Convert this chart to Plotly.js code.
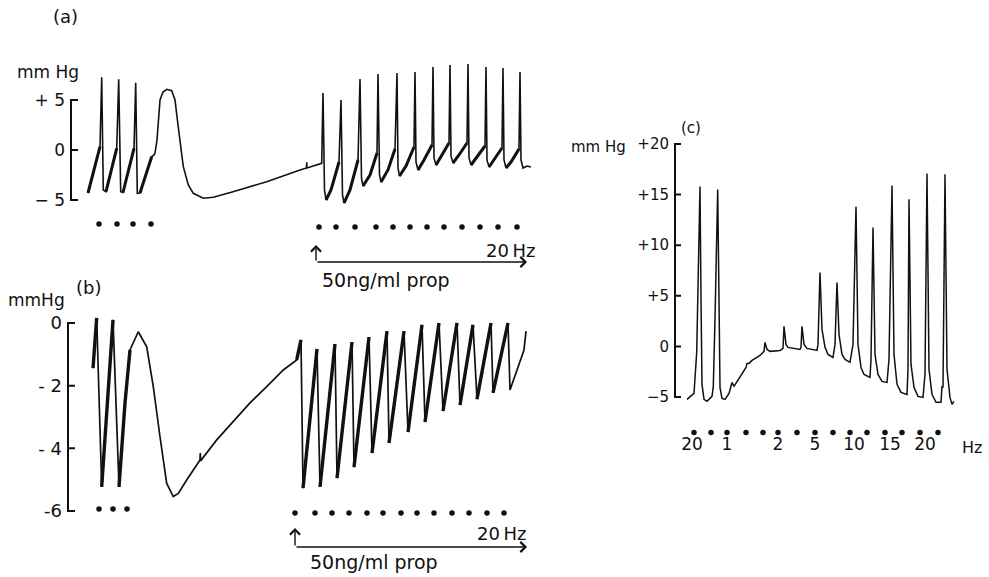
<!DOCTYPE html>
<html><head><meta charset="utf-8">
<script src="https://cdn.plot.ly/plotly-3.0.1.min.js"></script>
<style>html,body{margin:0;padding:0;background:#fff;}#chart{width:989px;height:577px;}</style>
</head><body><div id="chart"></div>
<script>
// ---------- DATA (time in s, pressure in mm Hg) ----------
// Panel (a)
const aTime = [0.0,1.2,1.37,1.53,1.8,2.87,3.07,3.27,3.5,4.6,4.77,4.93,5.2,6.37,6.6,6.7,6.9,7.2,7.5,7.87,8.37,8.7,9.0,9.2,9.53,10.03,10.53,11.53,12.53,14.5,17.87,21.2,21.85,21.87,21.9,23.37,
  23.5,23.65,23.8,24.3,25.1,25.3,25.45,25.6,26.2,27.0,27.2,27.35,27.5,28.2,28.9,29.0,29.15,29.3,30.0,30.7,30.9,31.0,31.15,31.8,32.6,32.7,32.8,33.0,33.6,34.4,34.5,34.6,34.8,35.3,36.1,36.2,36.3,36.5,37.1,37.9,38.0,38.1,38.3,38.8,39.7,39.8,39.9,40.1,40.6,41.4,41.5,41.6,41.8,42.3,43.1,43.2,43.3,43.5,43.9,44.3];
const aPressure = [-4.3,0.33,7.27,-4.0,-4.17,0.17,7.07,-4.17,-4.25,0.17,6.73,-4.33,-4.3,-0.67,-0.5,-0.3,1.0,5.0,5.8,6.07,5.93,5.0,2.5,1.0,-1.67,-3.5,-4.33,-4.83,-4.73,-4.17,-3.17,-2.0,-1.8,-1.23,-1.8,-1.33,
  5.7,-4.0,-5.0,-4.0,-1.2,5.0,-4.5,-5.3,-4.0,-1.0,7.1,-2.8,-3.6,-2.5,-0.3,7.6,-2.5,-3.2,-2.0,0.1,7.7,-1.8,-2.6,-1.6,0.3,7.8,-1.2,-2.0,-1.0,0.5,8.3,-0.8,-1.5,-0.7,0.7,8.5,-0.6,-1.3,-0.5,0.7,8.6,-0.8,-1.5,-0.8,0.4,8.3,-1.0,-1.7,-1.0,0.2,8.2,-1.0,-1.8,-1.2,0.1,7.8,-1.0,-1.8,-1.6,-1.7];
const aStimControl = [1.1,2.9,4.5,6.3];
const aStimDrug = [23.1,24.8,26.7,28.8,30.5,32.2,33.9,35.6,37.4,39.2,41.0,42.9];
const aDrugStart = 22.8, aDrugEnd = 43.9;
const aTickVals = [-5,0,5], aTickText = ['− 5','0','+ 5'];

// Panel (b)
const bTime = [0.0,0.37,0.87,2.0,2.6,3.2,3.7,4.0,4.53,5.37,6.03,6.7,7.37,8.03,8.53,9.37,10.7,10.73,10.76,12.37,14.03,15.7,17.37,19.03,20.37,
  20.8,21.0,22.4,22.7,24.2,24.4,25.9,26.1,27.6,27.9,29.4,29.6,31.1,31.5,32.9,33.2,34.6,35.0,36.4,36.7,38.0,38.4,39.8,40.0,41.5,41.7,43.1,43.3];
const bPressure = [-1.44,0.16,-5.23,0.10,-5.23,-2.55,-0.86,-0.64,-0.28,-0.76,-2.03,-3.63,-5.12,-5.54,-5.44,-5.01,-4.37,-4.15,-4.40,-3.73,-3.15,-2.55,-2.03,-1.50,-1.18,
  -0.54,-5.27,-0.83,-5.23,-0.67,-4.95,-0.61,-4.60,-0.45,-4.15,-0.26,-3.83,-0.26,-3.48,-0.06,-3.16,0.0,-2.81,0.0,-2.62,-0.06,-2.43,0.0,-2.23,0.0,-2.14,-0.86,-0.26];
const bStimControl = [0.6,2.0,3.4];
const bStimDrug = [20.2,22.2,23.9,25.6,27.4,29.0,30.8,32.4,34.1,35.9,37.6,39.4,41.1];
const bDrugStart = 20.2, bDrugEnd = 43.4;
const bTickVals = [-6,-4,-2,0], bTickText = ['-6','- 4','- 2','0'];

// Panel (c)
const cTime = [0.0,0.7,0.97,1.13,1.3,1.4,1.5,1.7,2.0,2.5,2.63,2.8,2.97,3.07,3.2,3.3,3.5,3.8,4.2,4.4,4.5,4.7,5.3,5.9,6.0,6.2,6.5,7.3,7.7,7.8,8.0,8.3,9.3,9.6,9.7,9.9,10.1,11.3,11.4,11.5,11.7,12.0,13.0,13.1,13.3,13.5,13.8,14.1,14.6,14.8,15.0,15.2,15.5,15.8,16.3,16.6,16.9,17.1,17.4,17.7,18.3,18.4,18.6,18.8,19.1,19.5,20.0,20.2,20.5,20.7,21.0,21.4,22.0,22.1,22.2,22.4,22.7,23.1,23.6,23.8,24.0,24.2,24.5,24.9,25.4,25.5,25.6,25.8,26.0,26.3,26.5,26.7];
const cPressure = [-5.24,-4.64,-0.59,5.93,15.81,4.64,-3.75,-5.24,-5.43,-4.94,-3.95,2.67,9.29,15.51,4.64,-4.05,-5.14,-5.24,-4.64,-4.05,-3.56,-3.95,-3.06,-2.08,-1.68,-1.68,-1.38,-0.89,-0.49,0.40,-0.30,-0.49,-0.40,-0.20,1.98,0.20,-0.10,-0.30,-0.10,1.98,0.20,-0.20,-0.40,0.20,7.31,1.68,-0.10,-0.79,-1.09,0.20,6.32,1.19,-0.79,-1.28,-1.58,0.20,13.83,0.20,-2.08,-2.77,-3.06,-1.28,11.76,-0.79,-2.77,-3.46,-3.56,-1.28,15.91,-0.79,-3.75,-4.55,-4.74,-2.27,14.53,-1.78,-4.05,-4.94,-5.04,-2.77,17.09,-2.27,-4.74,-5.53,-5.53,-3.95,-4.05,17.0,-2.27,-5.04,-5.73,-5.43];
const cStim = [0.7,2.4,4.0,5.9,7.6,9.1,11.0,12.8,14.6,16.3,18.0,19.8,21.5,23.3,25.1];
const cFreqTime = [0.5,4.0,9.1,12.8,16.7,20.3,23.8];
const cFreqText = ['20','1','2','5','10','15','20'];
const cTickVals = [-5,0,5,10,15,20], cTickText = ['−5','0','+5','+10','+15','+20'];

// ---------- LAYOUT HELPERS ----------
const W = 989, H = 577;
const FONT = 'DejaVu Sans', INK = '#111';
const px = v => v / W;
const py = v => 1 - v / H;
const yDom = (bottom, top) => [py(bottom), py(top)];
const xDom = (left, right) => [px(left), px(right)];
function matchRange(bracketPx, bracketRange, tracePx) {
  const k = (bracketRange[1] - bracketRange[0]) / (bracketPx[0] - bracketPx[1]);
  const val = p => bracketRange[0] + (bracketPx[0] - p) * k;
  return [val(tracePx[0]), val(tracePx[1])];
}
// scale axis: labels drawn by Plotly; the bracket (spine + right-pointing ticks) drawn as one path on the same scale
function labelAxis(domPx, range, posPx, vals, text, size, standoff) {
  return {domain: yDom(domPx[0], domPx[1]), range: range, anchor: 'free', position: px(posPx), side: 'left',
    showline: false, ticks: '', tickmode: 'array', tickvals: vals, ticktext: text,
    tickfont: {family: FONT, size: size, color: INK}, ticklabelstandoff: standoff,
    showgrid: false, zeroline: false, fixedrange: true};
}
function bracketPath(posPx, brPx, range, vals, lenPx) {
  const k = (brPx[0] - brPx[1]) / (range[1] - range[0]);
  const yOf = v => py(brPx[0] - (v - range[0]) * k);
  const x0 = px(posPx), x1 = px(posPx + lenPx);
  let d = 'M' + x1 + ',' + yOf(range[1]) + ' L' + x0 + ',' + yOf(range[1]) + ' L' + x0 + ',' + yOf(range[0]) + ' L' + x1 + ',' + yOf(range[0]);
  vals.filter(v => v !== range[0] && v !== range[1]).forEach(v => { d += ' M' + x0 + ',' + yOf(v) + ' L' + x1 + ',' + yOf(v); });
  return {type: 'path', xref: 'paper', yref: 'paper', path: d, line: {color: INK, width: 2}, layer: 'above'};
}
const hidden = (dom, range) => ({domain: dom, range: range, visible: false, fixedrange: true});

// slow rising phases (ramps) are drawn with a heavier pen
function rampSegments(t, p, minDt, minSlope) {
  const x = [], y = [];
  let lastEnd = -1;
  for (let i = 0; i < t.length - 1; i++) {
    const dt = t[i + 1] - t[i], dp = p[i + 1] - p[i];
    if (dt >= minDt && dp / dt >= minSlope) {
      if (lastEnd !== i) { if (x.length) { x.push(null); y.push(null); } x.push(t[i]); y.push(p[i]); }
      x.push(t[i + 1]); y.push(p[i + 1]); lastEnd = i + 1;
    }
  }
  return {x, y};
}

const aBr = [200, 100], aRange = [-5, 5], aTr = [262, 30];
const bBr = [511, 323], bRange = [-6, 0], bTr = [550, 288];
const cBr = [397, 144], cRange = [-5, 20], cTr = [470, 120];

const lineStyle = w => ({color: INK, width: w, shape: 'linear'});
const traceLine = (t, p, xa, ya, w) => ({x: t, y: p, xaxis: xa, yaxis: ya, type: 'scatter', mode: 'lines',
  line: lineStyle(w), hoverinfo: 'skip', connectgaps: false});
const dots = (t, yv, xa, ya) => ({x: t, y: t.map(() => yv), xaxis: xa, yaxis: ya, mode: 'markers', type: 'scatter',
  marker: {color: INK, size: 5.5, symbol: 'circle'}, hoverinfo: 'skip', cliponaxis: false});
const anchorTrace = (xa, ya) => ({x: [], y: [], xaxis: xa, yaxis: ya, type: 'scatter', mode: 'lines', hoverinfo: 'skip'});

const aRamp = rampSegments(aTime, aPressure, 0.35, 1.0);
const bRamp = rampSegments(bTime, bPressure, 0.35, 1.0);

const data = [
  traceLine(aTime, aPressure, 'x', 'y', 1.6),
  traceLine(aRamp.x, aRamp.y, 'x', 'y', 3.0),
  dots(aStimControl, -7.4, 'x', 'y'),
  dots(aStimDrug, -7.7, 'x', 'y'),
  anchorTrace('x', 'y2'),
  traceLine(bTime, bPressure, 'x2', 'y3', 1.7),
  traceLine(bRamp.x, bRamp.y, 'x2', 'y3', 3.4),
  dots(bStimControl, -5.94, 'x2', 'y3'),
  dots(bStimDrug, -6.06, 'x2', 'y3'),
  anchorTrace('x2', 'y4'),
  traceLine(cTime, cPressure, 'x3', 'y5', 1.5),
  dots(cStim, -8.5, 'x3', 'y5'),
  {x: cFreqTime, y: cFreqTime.map(() => -9.8), text: cFreqText, xaxis: 'x3', yaxis: 'y5', type: 'scatter', mode: 'text',
    textposition: 'middle center', textfont: {family: FONT, size: 17, color: INK}, hoverinfo: 'skip', cliponaxis: false},
  anchorTrace('x3', 'y6')
];

const txt = (t, xp, yp, size, xanchor) => ({text: t, x: px(xp), y: py(yp), xref: 'paper', yref: 'paper', showarrow: false,
  xanchor: xanchor || 'center', yanchor: 'middle', font: {family: FONT, size: size, color: INK}});
const arrowUp = (xa, t, tipPx, len) => ({text: '', xref: xa, yref: 'paper', x: t, y: py(tipPx), ax: 0, ay: len,
  showarrow: true, arrowhead: 4, arrowsize: 1.4, arrowwidth: 1.4, arrowcolor: INK, standoff: 0, startstandoff: 0});
const arrowRight = (xa, t0, t1, yPx) => ({text: '', xref: xa, yref: 'paper', x: t1, y: py(yPx), axref: xa, ax: t0, ay: 0,
  showarrow: true, arrowhead: 4, arrowsize: 1.4, arrowwidth: 1.4, arrowcolor: INK, standoff: 0, startstandoff: 0});

const layout = {
  width: W, height: H, margin: {l: 0, r: 0, t: 0, b: 0}, paper_bgcolor: '#fff', plot_bgcolor: 'rgba(0,0,0,0)',
  showlegend: false, hovermode: false,
  xaxis: hidden(xDom(80, 560), [-0.8, 47.2]),
  xaxis2: hidden(xDom(80, 560), [-1.3, 46.7]),
  xaxis3: hidden(xDom(670, 985), [-1.7, 29.8]),
  yaxis: hidden(yDom(aTr[0], aTr[1]), matchRange(aBr, aRange, aTr)),
  yaxis2: labelAxis(aBr, aRange, 71, aTickVals, aTickText, 17, 6),
  yaxis3: hidden(yDom(bTr[0], bTr[1]), matchRange(bBr, bRange, bTr)),
  yaxis4: labelAxis(bBr, bRange, 68, bTickVals, bTickText, 18, 6),
  yaxis5: hidden(yDom(cTr[0], cTr[1]), matchRange(cBr, cRange, cTr)),
  yaxis6: labelAxis(cBr, cRange, 675, cTickVals, cTickText, 15, 6),
  shapes: [
    bracketPath(71, aBr, aRange, aTickVals, 7),
    bracketPath(68, bBr, bRange, bTickVals, 7),
    bracketPath(675, cBr, cRange, cTickVals, 6)
  ],
  annotations: [
    txt('(a)', 65, 17, 18), txt('mm Hg', 48, 72, 17),
    txt('(b)', 88, 287, 18), txt('mmHg', 36, 300, 17),
    txt('(c)', 691, 128, 15), txt('mm Hg', 598, 147, 15),
    txt('20\u2009Hz', 537, 250, 18, 'right'), txt('50ng/ml prop', 320, 280, 19, 'left'),
    txt('20\u2009Hz', 528, 533, 18, 'right'), txt('50ng/ml prop', 308, 562, 19, 'left'),
    txt('Hz', 972, 447, 16),
    arrowUp('x', aDrugStart, 245, 17), arrowRight('x', aDrugStart, aDrugEnd, 262),
    arrowUp('x2', bDrugStart, 528, 19), arrowRight('x2', bDrugStart, bDrugEnd, 547)
  ]
};
Plotly.newPlot('chart', data, layout, {staticPlot: true, displayModeBar: false});
</script></body></html>
